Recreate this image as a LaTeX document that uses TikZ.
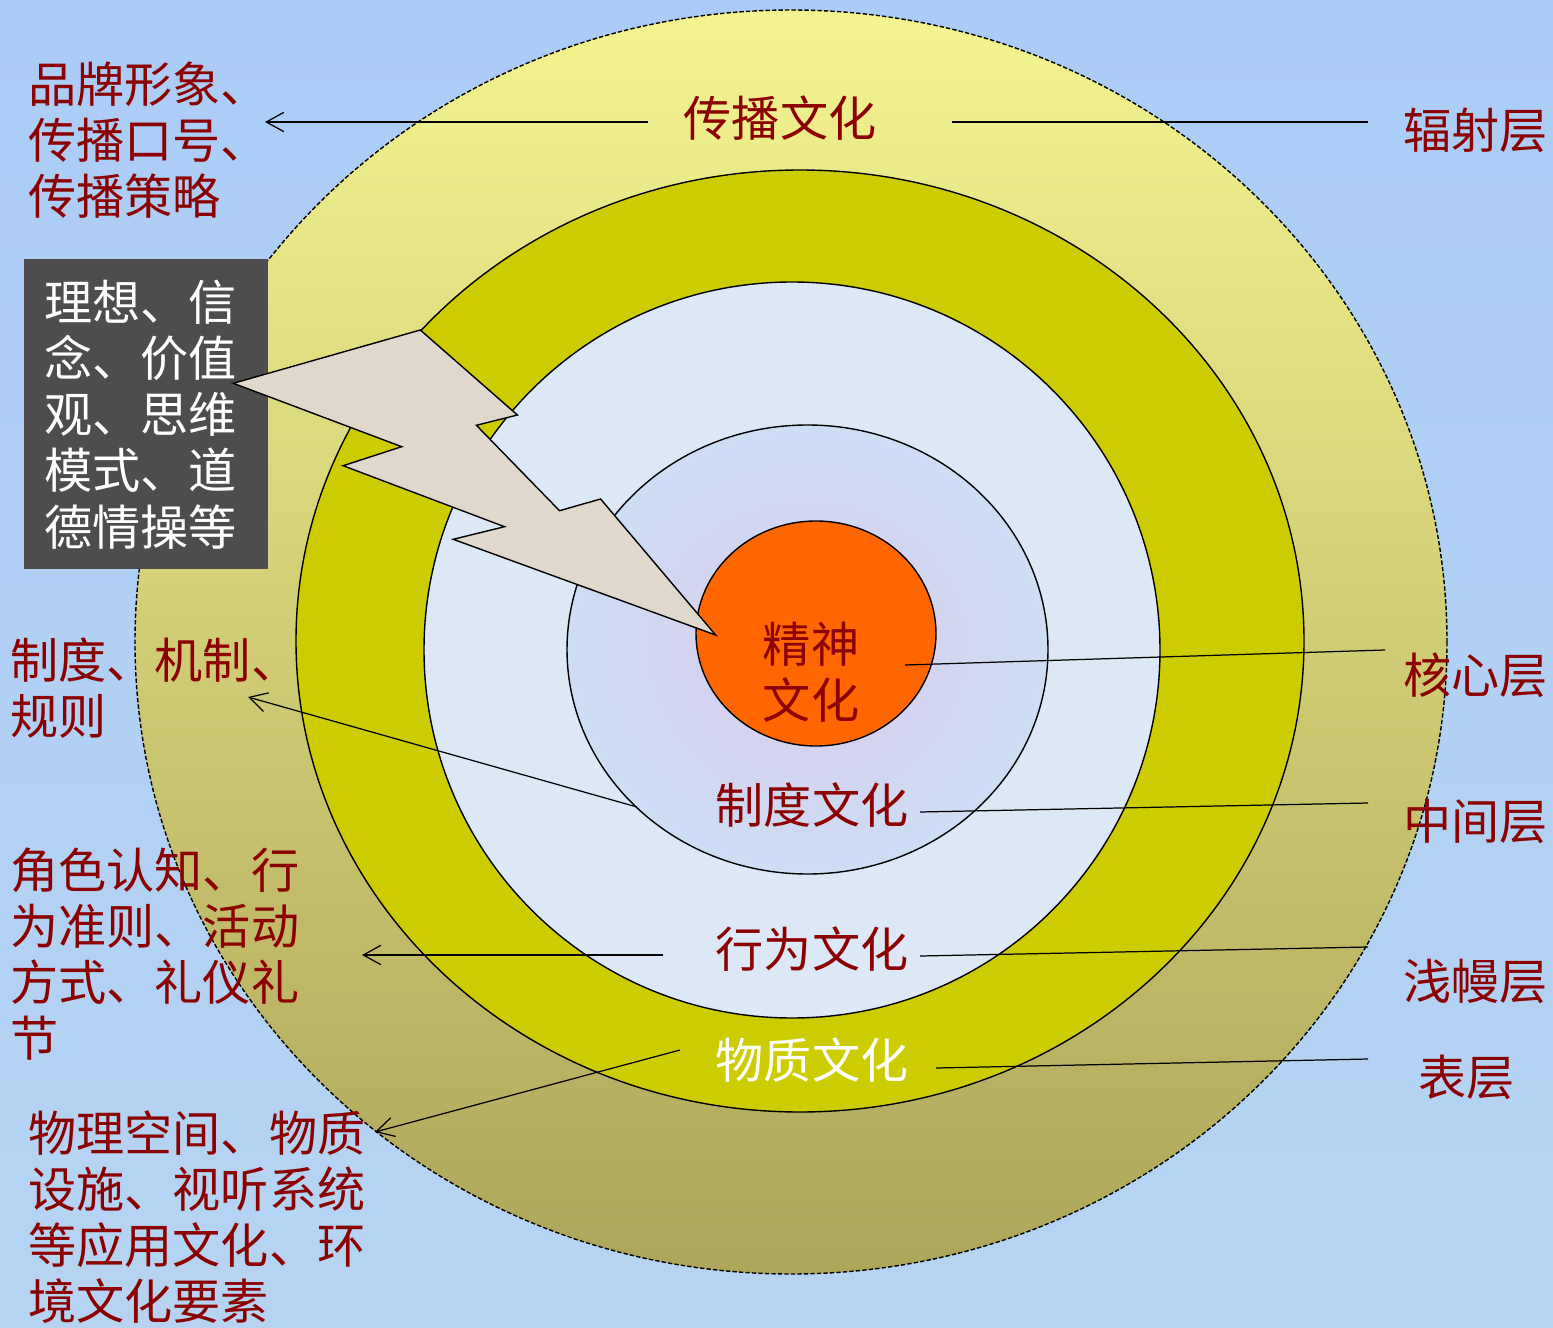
\documentclass[tikz,border=0pt]{standalone}
\usepackage{fontspec}
\usepackage{tikz}
\usetikzlibrary{arrows.meta}
\newfontfamily\cjk{Noto Sans CJK SC}
\definecolor{txtred}{HTML}{8B0000}
\definecolor{bgtop}{HTML}{ABCCF6}
\definecolor{bgmid}{HTML}{A6C5EF}
\definecolor{bgbot}{HTML}{B6D4F2}
\definecolor{outtop}{HTML}{F4F490}
\definecolor{outbot}{HTML}{ADA55A}
\definecolor{ringcol}{HTML}{CCCC00}
\definecolor{diskblue}{HTML}{DCE8F6}
\definecolor{corein}{HTML}{DCCCEC}
\definecolor{coreout}{HTML}{CCDDF4}
\definecolor{spirit}{HTML}{FF6600}
\definecolor{boxgray}{HTML}{4D4D4D}
\definecolor{boltcol}{HTML}{E0D8CC}

\begin{document}
\begin{tikzpicture}[x=0.02cm, y=-0.02cm,
  lbl/.style={font=\cjk\fontsize{27.4}{32}\selectfont, text=txtred, inner sep=0pt, align=left},
  conn/.style={line width=0.7pt, draw=black},
  >={Straight Barb[length=10pt,width=11pt]}]
% background
\shade [top color=bgtop, middle color=bgmid, bottom color=bgbot] (0,0) rectangle (1553,1328);
\useasboundingbox (0,0) rectangle (1553,1328);

% layers
\shadedraw [top color=outtop, bottom color=outbot, draw=black, line width=0.8pt, dash pattern=on 2.5pt off 1.2pt] (791,642) ellipse [x radius=656, y radius=632];
\filldraw [fill=ringcol, draw=black, line width=0.8pt] (800,641) ellipse [x radius=504, y radius=471];
\filldraw [fill=diskblue, draw=black, line width=0.8pt] (792,650) ellipse [x radius=368, y radius=368];
\shadedraw [inner color=corein, outer color=coreout, draw=black, line width=0.8pt] (807.5,649.5) ellipse [x radius=240.5, y radius=224.5];
\filldraw [fill=spirit, draw=black, line width=0.8pt] (816,633.5) ellipse [x radius=120, y radius=112.5];

% box of ideas
\node [lbl, text=white, fill=boxgray, anchor=north west, inner xsep=0.4cm, inner ysep=0pt, text width=4.08cm, minimum height=6.2cm] (lxxn) at (24,259) {理想、信\\念、价值\\观、思维\\模式、道\\德情操等};

% lightning
\filldraw [fill=boltcol, draw=black, line width=0.8pt] (420.3,330) -- (233.3,383.3) -- (401.7,446.7) -- (343.1,465.7) -- (504.5,526.7) -- (453.2,539.3) -- (715.6,635) -- (600.6,499) -- (559.5,510.7) -- (476.4,425.3) -- (517.4,415) -- cycle;

% layer names
\node [lbl] (cbwh) at (780,118) {传播文化};
\node [lbl, align=center] (jswh) at (811,672) {精神\\文化};
\node [lbl] (zdwh) at (812,805) {制度文化};
\node [lbl] (xwwh) at (812,949) {行为文化};
\node [lbl, text=white] (wzwh) at (812,1060) {物质文化};

\node [lbl, anchor=west] (fsc) at (1403,130) {辐射层};
\node [lbl, anchor=west] (hxc) at (1403,675) {核心层};
\node [lbl, anchor=west] (zjc) at (1403,821) {中间层};
\node [lbl, anchor=west] (qmc) at (1403,981) {浅幔层};
\node [lbl, anchor=west] (bc) at (1418,1077) {表层};

\node [lbl, anchor=west] (ppxx) at (28,140) {品牌形象、\\传播口号、\\传播策略};
\node [lbl, anchor=west] (zdjz) at (10,688) {制度、机制、\\规则};
\node [lbl, anchor=west] (jsrz) at (10,954) {角色认知、行\\为准则、活动\\方式、礼仪礼\\节};
\node [lbl, anchor=west] (wlkj) at (28,1217) {物理空间、物质\\设施、视听系统\\等应用文化、环\\境文化要素};

% connector ends
\coordinate (cbL) at (648,122);
\coordinate (ppT) at (265,122);
\coordinate (cbR) at (952,122);
\coordinate (fsL) at (1368,122);
\coordinate (jsR) at (905,665);
\coordinate (hxL) at (1385,650);
\coordinate (zdR) at (920,812);
\coordinate (zjL) at (1368,803);
\coordinate (xwR) at (920,956);
\coordinate (qmL) at (1368,947);
\coordinate (wzR) at (936,1068);
\coordinate (bcL) at (1368,1059);
\coordinate (zdL) at (637,807);
\coordinate (zdT) at (248,697);
\coordinate (xwL) at (663,955);
\coordinate (jsT) at (362,955);
\coordinate (wzL) at (680,1050);
\coordinate (wlT) at (375,1132);

% connectors
\draw [conn,->] (cbL) -- (ppT);
\draw [conn] (cbR) -- (fsL);
\draw [conn] (jsR) -- (hxL);
\draw [conn] (zdR) -- (zjL);
\draw [conn] (xwR) -- (qmL);
\draw [conn] (wzR) -- (bcL);
\draw [conn,->] (zdL) -- (zdT);
\draw [conn,->] (xwL) -- (jsT);
\draw [conn,->] (wzL) -- (wlT);
\end{tikzpicture}
\end{document}
